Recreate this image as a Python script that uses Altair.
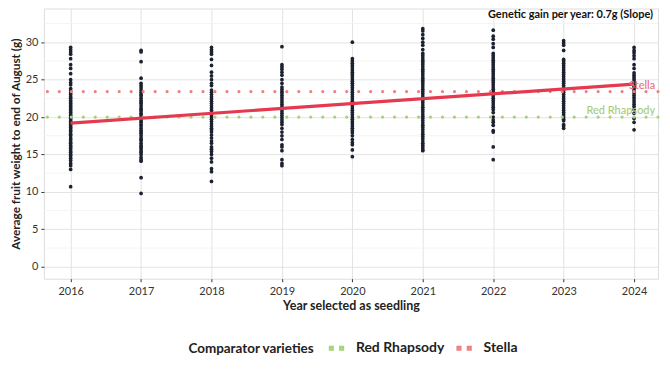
import altair as alt
import pandas as pd

FONT = "Lato"

years = [2016, 2017, 2018, 2019, 2020, 2021, 2022, 2023, 2024]

w2016 = [29.3, 29.0, 28.7, 28.4, 27.8, 27.0, 26.5, 25.8, 25.0, 24.6, 24.3,
         23.8, 23.5, 23.2, 23.0, 22.7, 22.5, 22.2, 22.0, 21.8, 21.6, 21.4, 21.2, 21.0,
         20.8, 20.6, 20.4, 20.2, 20.0, 19.8, 19.6, 19.4, 19.2, 19.0, 18.8, 18.6, 18.4,
         18.2, 18.0, 17.7, 17.5, 17.2, 17.0, 16.7, 16.5, 16.2, 16.0, 15.8, 15.5, 15.3,
         15.0, 14.8, 14.5, 14.2, 13.8, 13.5, 13.0, 10.7]
w2017 = [28.9, 28.7, 27.4, 25.2, 24.5, 24.2,
         23.9, 23.6, 23.3, 23.0, 22.8, 22.5, 22.2, 22.0, 21.8, 21.5, 21.2, 21.0, 20.8,
         20.5, 20.3, 20.0, 19.8, 19.5, 19.3, 19.0, 18.8, 18.5, 18.2, 18.0, 17.8, 17.5,
         17.2, 17.0, 16.8, 16.5, 16.2, 16.0, 15.8, 15.5, 15.3, 15.0, 14.6, 14.3, 14.1,
         11.9, 9.8]
w2018 = [29.3, 29.0, 28.7, 28.4, 27.7, 26.9, 26.0, 25.5, 25.0, 24.5, 24.2,
         23.6, 23.3, 23.0, 22.7, 22.4, 22.1, 21.8, 21.5, 21.2, 20.9, 20.6, 20.3, 20.0,
         19.7, 19.4, 19.1, 18.8, 18.5, 18.3, 18.0, 17.6, 17.2, 16.8, 16.5, 16.0, 15.7,
         15.4, 15.0, 14.5, 14.0, 13.1, 12.7, 11.4]
w2019 = [29.4, 27.0, 26.7, 26.4, 26.0, 25.6, 25.0, 24.5, 24.0, 23.7, 23.4,
         23.2, 22.9, 22.6, 22.3, 22.0, 21.7, 21.4, 21.1, 20.8, 20.5, 20.2, 19.9, 19.6,
         19.3, 19.0, 18.5, 18.0, 17.5, 17.0, 16.3, 16.0, 15.5, 14.3, 13.8, 13.5]
w2020 = [30.0, 27.8, 27.5, 27.2, 26.9, 26.6, 26.3, 26.0, 25.7, 25.4, 25.1, 24.8,
         24.5, 24.2, 23.9, 23.6, 23.3, 23.0, 22.7, 22.4, 22.1, 21.8, 21.5, 21.2, 20.9,
         20.6, 20.3, 20.0, 19.7, 19.4, 19.1, 18.8, 18.5, 18.2, 17.9, 17.5, 17.0, 16.6,
         16.3, 15.6, 14.7]
w2021 = [31.8, 31.5, 31.0, 30.5, 30.0, 29.6, 29.0, 28.5, 28.2, 27.9, 27.6, 27.3,
         27.0, 26.7, 26.4, 26.1, 25.8, 25.5, 25.2, 24.9, 24.6, 24.3, 24.0, 23.7, 23.4,
         23.1, 22.8, 22.5, 22.2, 21.9, 21.6, 21.3, 21.0, 20.7, 20.4, 20.1, 19.8, 19.5,
         19.2, 18.9, 18.6, 18.3, 18.0, 17.7, 17.4, 17.1, 16.8, 16.5, 16.2, 15.9, 15.6,
         15.5]
w2022 = [31.6, 30.8, 30.4, 29.8, 29.3, 28.5, 28.2, 27.9, 27.6, 27.3, 27.0, 26.7,
         26.4, 26.1, 25.8, 25.5, 25.2, 24.9, 24.6, 24.3, 24.0, 23.7, 23.4, 23.1, 22.8,
         22.5, 22.2, 21.9, 21.6, 21.3, 21.0, 20.6, 20.0, 19.6, 19.3, 18.9, 18.2, 18.0,
         16.0, 14.3]
w2023 = [30.2, 29.9, 29.6, 28.9, 27.7, 27.5, 27.2, 26.9, 26.6, 26.3, 26.0, 25.7,
         25.4, 25.1, 24.8, 24.5, 24.2, 23.9, 23.6, 23.3, 23.0, 22.7, 22.4, 22.1, 21.8,
         21.5, 21.2, 20.9, 20.6, 20.3, 20.0, 19.7, 19.5, 19.0, 18.8, 18.5]
w2024 = [29.3, 28.9, 28.6, 28.2, 27.8, 27.0, 26.5, 25.9, 25.6, 25.3, 25.0, 24.7,
         24.4, 24.1, 23.8, 23.5, 23.2, 22.9, 22.6, 22.3, 22.0, 21.7, 21.4, 21.0, 20.5,
         19.8, 19.3, 18.3]

weights_by_year = [w2016, w2017, w2018, w2019, w2020, w2021, w2022, w2023, w2024]

reg_years = [2016, 2024]
reg_values = [19.2, 24.4]

comparators = ["Red Rhapsody", "Stella"]
comparator_values = [20.0, 23.4]
comparator_colors = ["#A5D27A", "#EE7F80"]
label_colors = ["#A6CB7B", "#E86F78"]

minor_breaks = [2.5, 7.5, 12.5, 17.5, 22.5, 27.5, 32.5]
y_ticks = [0, 5, 10, 15, 20, 25, 30]

annotation = "Genetic gain per year: 0.7g (Slope)"
ann_x, ann_y = 2024.27, 33.6
label_x = 2024.3

rows = []
for yr, vals in zip(years, weights_by_year):
    for v in vals:
        rows.append({"year": yr, "weight": v})
pts = pd.DataFrame(rows)
reg = pd.DataFrame({"year": reg_years, "weight": reg_values})
comp = pd.DataFrame({"variety": comparators, "weight": comparator_values,
                     "x": [label_x] * 2})
minor = pd.DataFrame({"weight": minor_breaks})
ann = pd.DataFrame({"x": [ann_x], "weight": [ann_y], "text": [annotation]})

xdom = [2015.62, 2024.34]
ydom = [-1.6, 34.5]
xs = alt.Scale(domain=xdom, nice=False, zero=False)
ys = alt.Scale(domain=ydom, nice=False, zero=False)

# two small square "dots" side by side
dots_path = ("M-1.1,-0.24 L-0.62,-0.24 L-0.62,0.24 L-1.1,0.24 Z "
             "M0.62,-0.24 L1.1,-0.24 L1.1,0.24 L0.62,0.24 Z")

color = alt.Color("variety:N", scale=alt.Scale(domain=comparators, range=comparator_colors),
                  legend=alt.Legend(
                      title="Comparator varieties", orient="none", direction="horizontal",
                      legendX=145, legendY=333,
                      titleOrient="left", titleAnchor="middle", titleBaseline="line-top",
                      titleLineHeight=4.5,
                      titleFontSize=13.5, labelFontSize=14,
                      titleFontWeight="bold", labelFontWeight="bold",
                      titleColor="#222222", labelColor="#222222",
                      titleFont=FONT, labelFont=FONT, titlePadding=14,
                      symbolType=dots_path, symbolSize=144, symbolStrokeWidth=2.2,
                      columnPadding=8, labelOffset=12))

minor_layer = alt.Chart(minor).mark_rule(color="#f1f1f1", strokeWidth=0.8).encode(
    y=alt.Y("weight:Q", scale=ys))

base_x = alt.X("year:Q", scale=xs, title="Year selected as seedling",
               axis=alt.Axis(values=years, format="d", grid=True, gridColor="#e3e3e3",
                             tickColor="#333333", tickSize=3, labelFontSize=11,
                             labelColor="#333333", labelFont=FONT, titleFont=FONT,
                             titleFontSize=12.5, titleFontWeight="bold",
                             titleColor="#222222", labelPadding=4, titlePadding=3,
                             domain=False))
base_y = alt.Y("weight:Q", scale=ys, title="Average fruit weight to end of August (g)",
               axis=alt.Axis(values=y_ticks, grid=True, gridColor="#e3e3e3",
                             tickColor="#333333", tickSize=3, labelFontSize=11,
                             labelColor="#333333", labelFont=FONT, titleFont=FONT,
                             titleFontSize=11.8, titleFontWeight="bold",
                             titleColor="#222222", labelPadding=3, titlePadding=4,
                             domain=False))

points = alt.Chart(pts).mark_circle(size=14, color="#1c2130", opacity=1).encode(
    x=base_x, y=base_y)

rules = alt.Chart(comp).mark_rule(strokeDash=[0.01, 12], strokeCap="round",
                                  strokeWidth=3.2).encode(
    y=alt.Y("weight:Q", scale=ys), color=color)

line = alt.Chart(reg).mark_line(color="#E5394F", strokeWidth=3.2).encode(
    x=alt.X("year:Q", scale=xs), y=alt.Y("weight:Q", scale=ys))

labels = alt.Chart(comp).mark_text(align="right", baseline="bottom", dy=-1,
                                   fontSize=11, font=FONT, fontWeight=500).encode(
    x=alt.X("x:Q", scale=xs), y=alt.Y("weight:Q", scale=ys),
    text="variety:N",
    color=alt.Color("variety:N", scale=alt.Scale(domain=comparators, range=label_colors),
                    legend=None))

ann_layer = alt.Chart(ann).mark_text(align="right", baseline="middle", fontSize=11,
                                     font=FONT, fontWeight="bold", color="#111111").encode(
    x=alt.X("x:Q", scale=xs), y=alt.Y("weight:Q", scale=ys), text="text:N")

chart = alt.layer(minor_layer, points, rules, line, labels, ann_layer).resolve_scale(
    color="independent"
).properties(
    width=616, height=271,
    padding={"left": 2, "top": 0, "right": 2, "bottom": 0},
).configure_view(stroke="#555555", strokeWidth=1).configure(background="white")

chart.save("out.html", embed_options={"renderer": "svg", "actions": False})
